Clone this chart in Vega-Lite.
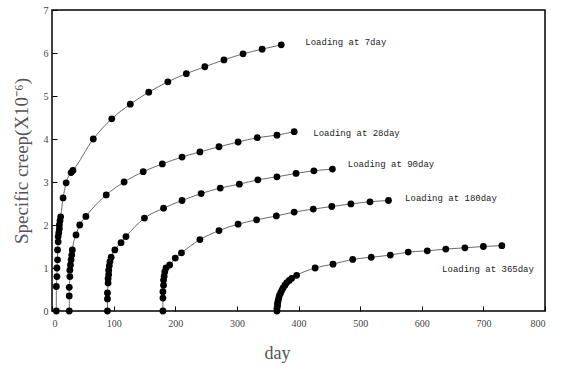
{
  "$schema": "https://vega.github.io/schema/vega-lite/v6.json",
  "width": 493,
  "height": 301,
  "autosize": "none",
  "padding": {"left": 52, "top": 10, "right": 19, "bottom": 56},
  "background": "white",
  "config": {
    "view": {"stroke": "black", "strokeWidth": 1.5},
    "font": "Liberation Serif"
  },
  "datasets": {
    "pts": [
      {"series": "7", "day": 7, "creep": 0},
      {"series": "7", "day": 7, "creep": 0.57},
      {"series": "7", "day": 8, "creep": 0.8},
      {"series": "7", "day": 8, "creep": 1.0},
      {"series": "7", "day": 9, "creep": 1.19},
      {"series": "7", "day": 9, "creep": 1.42},
      {"series": "7", "day": 10, "creep": 1.61},
      {"series": "7", "day": 10, "creep": 1.73},
      {"series": "7", "day": 11, "creep": 1.82},
      {"series": "7", "day": 12, "creep": 1.91},
      {"series": "7", "day": 12, "creep": 2.0},
      {"series": "7", "day": 13, "creep": 2.1},
      {"series": "7", "day": 14, "creep": 2.19},
      {"series": "7", "day": 18, "creep": 2.63},
      {"series": "7", "day": 23, "creep": 2.98},
      {"series": "7", "day": 31, "creep": 3.22},
      {"series": "7", "day": 34, "creep": 3.27},
      {"series": "7", "day": 67, "creep": 4.0},
      {"series": "7", "day": 97, "creep": 4.47},
      {"series": "7", "day": 127, "creep": 4.81},
      {"series": "7", "day": 157, "creep": 5.09},
      {"series": "7", "day": 188, "creep": 5.33},
      {"series": "7", "day": 218, "creep": 5.52},
      {"series": "7", "day": 248, "creep": 5.68},
      {"series": "7", "day": 279, "creep": 5.84},
      {"series": "7", "day": 310, "creep": 5.98},
      {"series": "7", "day": 341, "creep": 6.09},
      {"series": "7", "day": 372, "creep": 6.19},
      {"series": "28", "day": 28, "creep": 0},
      {"series": "28", "day": 28, "creep": 0.35},
      {"series": "28", "day": 28, "creep": 0.55},
      {"series": "28", "day": 29, "creep": 0.8},
      {"series": "28", "day": 29, "creep": 0.95},
      {"series": "28", "day": 30, "creep": 1.07},
      {"series": "28", "day": 31, "creep": 1.19},
      {"series": "28", "day": 32, "creep": 1.3},
      {"series": "28", "day": 33, "creep": 1.42},
      {"series": "28", "day": 39, "creep": 1.77},
      {"series": "28", "day": 45, "creep": 2.0},
      {"series": "28", "day": 55, "creep": 2.2},
      {"series": "28", "day": 88, "creep": 2.7},
      {"series": "28", "day": 117, "creep": 3.0},
      {"series": "28", "day": 148, "creep": 3.24},
      {"series": "28", "day": 179, "creep": 3.42},
      {"series": "28", "day": 211, "creep": 3.58},
      {"series": "28", "day": 240, "creep": 3.7},
      {"series": "28", "day": 271, "creep": 3.82},
      {"series": "28", "day": 302, "creep": 3.93},
      {"series": "28", "day": 333, "creep": 4.03},
      {"series": "28", "day": 365, "creep": 4.09},
      {"series": "28", "day": 393, "creep": 4.17},
      {"series": "90", "day": 90, "creep": 0},
      {"series": "90", "day": 90, "creep": 0.28},
      {"series": "90", "day": 90, "creep": 0.42},
      {"series": "90", "day": 91, "creep": 0.65},
      {"series": "90", "day": 91, "creep": 0.75},
      {"series": "90", "day": 92, "creep": 0.85},
      {"series": "90", "day": 92, "creep": 0.95},
      {"series": "90", "day": 93, "creep": 1.05},
      {"series": "90", "day": 94, "creep": 1.15},
      {"series": "90", "day": 96, "creep": 1.25},
      {"series": "90", "day": 102, "creep": 1.42},
      {"series": "90", "day": 112, "creep": 1.59},
      {"series": "90", "day": 120, "creep": 1.73},
      {"series": "90", "day": 150, "creep": 2.16},
      {"series": "90", "day": 181, "creep": 2.39},
      {"series": "90", "day": 211, "creep": 2.57},
      {"series": "90", "day": 242, "creep": 2.73},
      {"series": "90", "day": 273, "creep": 2.86},
      {"series": "90", "day": 304, "creep": 2.95},
      {"series": "90", "day": 334, "creep": 3.05},
      {"series": "90", "day": 365, "creep": 3.12},
      {"series": "90", "day": 396, "creep": 3.2},
      {"series": "90", "day": 425, "creep": 3.26},
      {"series": "90", "day": 455, "creep": 3.3},
      {"series": "180", "day": 180, "creep": 0},
      {"series": "180", "day": 180, "creep": 0.3},
      {"series": "180", "day": 180, "creep": 0.45},
      {"series": "180", "day": 181, "creep": 0.6},
      {"series": "180", "day": 181, "creep": 0.72},
      {"series": "180", "day": 182, "creep": 0.81},
      {"series": "180", "day": 183, "creep": 0.91},
      {"series": "180", "day": 185, "creep": 1.0},
      {"series": "180", "day": 191, "creep": 1.07},
      {"series": "180", "day": 200, "creep": 1.23},
      {"series": "180", "day": 210, "creep": 1.35},
      {"series": "180", "day": 240, "creep": 1.66},
      {"series": "180", "day": 271, "creep": 1.87},
      {"series": "180", "day": 302, "creep": 2.02},
      {"series": "180", "day": 332, "creep": 2.12},
      {"series": "180", "day": 364, "creep": 2.21},
      {"series": "180", "day": 393, "creep": 2.3},
      {"series": "180", "day": 424, "creep": 2.37},
      {"series": "180", "day": 454, "creep": 2.43},
      {"series": "180", "day": 485, "creep": 2.49},
      {"series": "180", "day": 516, "creep": 2.54},
      {"series": "180", "day": 546, "creep": 2.57},
      {"series": "365", "day": 365, "creep": 0},
      {"series": "365", "day": 365, "creep": 0.06},
      {"series": "365", "day": 366, "creep": 0.12},
      {"series": "365", "day": 366, "creep": 0.18},
      {"series": "365", "day": 367, "creep": 0.24},
      {"series": "365", "day": 368, "creep": 0.3},
      {"series": "365", "day": 369, "creep": 0.36},
      {"series": "365", "day": 371, "creep": 0.42},
      {"series": "365", "day": 373, "creep": 0.48},
      {"series": "365", "day": 375, "creep": 0.54},
      {"series": "365", "day": 378, "creep": 0.6},
      {"series": "365", "day": 381, "creep": 0.66},
      {"series": "365", "day": 385, "creep": 0.71},
      {"series": "365", "day": 389, "creep": 0.76},
      {"series": "365", "day": 397, "creep": 0.83},
      {"series": "365", "day": 427, "creep": 1.0},
      {"series": "365", "day": 456, "creep": 1.09},
      {"series": "365", "day": 488, "creep": 1.2},
      {"series": "365", "day": 518, "creep": 1.25},
      {"series": "365", "day": 549, "creep": 1.3},
      {"series": "365", "day": 578, "creep": 1.37},
      {"series": "365", "day": 609, "creep": 1.4},
      {"series": "365", "day": 639, "creep": 1.44},
      {"series": "365", "day": 670, "creep": 1.47},
      {"series": "365", "day": 700, "creep": 1.5},
      {"series": "365", "day": 730, "creep": 1.52}
    ],
    "labels": [
      {"text": "Loading at 7day", "day": 411, "creep": 6.26},
      {"text": "Loading at 28day", "day": 424, "creep": 4.14},
      {"text": "Loading at 90day", "day": 480, "creep": 3.42},
      {"text": "Loading at 180day", "day": 573, "creep": 2.63},
      {"text": "Loading at 365day", "day": 633, "creep": 0.98}
    ]
  },
  "layer": [
    {
      "data": {"name": "pts"},
      "mark": {"type": "line", "color": "#444", "strokeWidth": 0.8, "interpolate": "monotone"},
      "encoding": {
        "x": {"field": "day", "type": "quantitative", "scale": {"domain": [0, 800], "nice": false}, "axis": {"title": "day", "values": [0, 100, 200, 300, 400, 500, 600, 700, 800], "grid": false, "domain": false, "tickSize": -5, "tickColor": "black", "labelPadding": 12, "labelFont": "Liberation Serif", "labelFontSize": 10, "labelColor": "#444", "titleFont": "Liberation Serif", "titleFontSize": 18, "titleFontWeight": "normal", "titleColor": "#555", "titlePadding": 16, "titleX": 225}},
        "y": {"field": "creep", "type": "quantitative", "scale": {"domain": [0, 7], "nice": false}, "axis": {"title": "Specific creep(X10⁻⁶)", "values": [0, 1, 2, 3, 4, 5, 6, 7], "grid": false, "domain": false, "tickSize": -5, "tickColor": "black", "labelPadding": 9, "labelFont": "Liberation Serif", "labelFontSize": 10, "labelColor": "#444", "titleFont": "Liberation Serif", "titleFontSize": 19, "titleFontWeight": "normal", "titleColor": "#555", "titlePadding": 12}},
        "detail": {"field": "series"}
      }
    },
    {
      "data": {"name": "pts"},
      "mark": {"type": "circle", "color": "black", "opacity": 1, "size": 46},
      "encoding": {
        "x": {"field": "day", "type": "quantitative"},
        "y": {"field": "creep", "type": "quantitative"}
      }
    },
    {
      "data": {"name": "labels"},
      "mark": {"type": "text", "align": "left", "baseline": "middle", "font": "Liberation Mono", "fontSize": 9, "color": "#222"},
      "encoding": {
        "x": {"field": "day", "type": "quantitative"},
        "y": {"field": "creep", "type": "quantitative"},
        "text": {"field": "text"}
      }
    }
  ]
}
